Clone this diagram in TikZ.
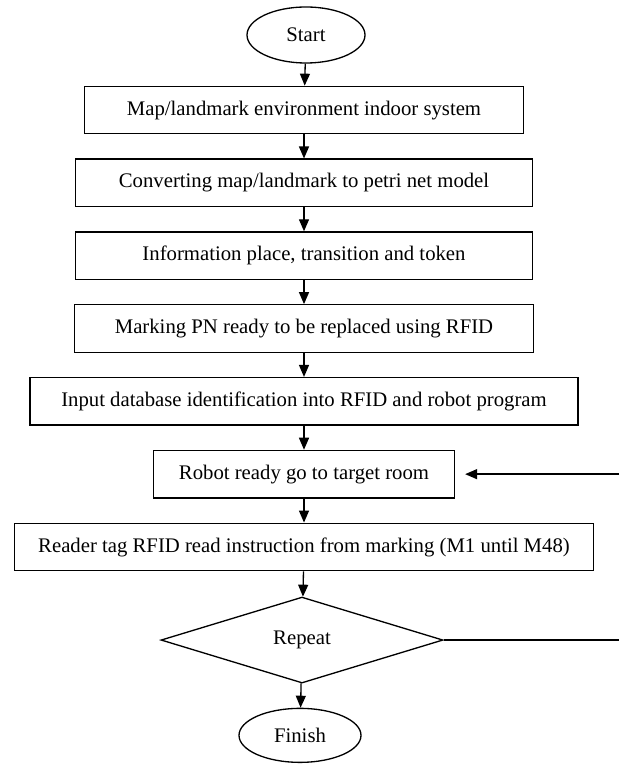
\documentclass[tikz,border=0pt]{standalone}
\usepackage{fontspec}
\setmainfont{Liberation Serif}
\usetikzlibrary{positioning,shapes.geometric,arrows.meta}

\begin{document}
\begin{tikzpicture}[auto,line width=0.75pt,font=\fontsize{11.8}{14}\selectfont,>={Triangle[width=0.2cm,length=0.24cm]}]

	\useasboundingbox (0,0) rectangle (12.38,-15.28);

	\begin{scope}[every node/.style={draw,ellipse,minimum width=2.36cm,minimum height=1.12cm,inner sep=0pt}]
		\node (start) at (6.12,-0.70) {Start};
	\end{scope}

	\begin{scope}[every node/.style={draw,rectangle,minimum height=0.95cm,inner sep=0pt}]
		\node (map) at (start.south) [below=0.44cm,xshift=-0.04cm,minimum width=8.78cm] {Map/landmark environment indoor system};
		\node (petri) at (map.south) [below=0.48cm,minimum width=9.14cm] {Converting map/landmark to petri net model};
		\node (info) at (petri.south) [below=0.48cm,minimum width=9.14cm] {Information place, transition and token};
		\node (marking) at (info.south) [below=0.48cm,minimum width=9.18cm] {Marking PN ready to be replaced using RFID};
		\node (input) at (marking.south) [below=0.48cm,minimum width=10.96cm] {Input database identification into RFID and robot program};
		\node (robot) at (input.south) [below=0.48cm,minimum width=6.02cm] {Robot ready go to target room};
		\node (reader) at (robot.south) [below=0.48cm,minimum width=11.58cm] {Reader tag RFID read instruction from marking (M1 until M48)};
	\end{scope}

	\node (rep) at (reader.south) [below=0.5cm,xshift=-0.04cm,draw,diamond,aspect=3.3,minimum width=5.64cm,minimum height=1.72cm,inner sep=0pt] {Repeat};

	\begin{scope}[every node/.style={draw,ellipse,minimum width=2.44cm,minimum height=1.08cm,inner sep=0pt}]
		\node (finish) at (rep.south) [below=0.48cm,xshift=-0.04cm] {Finish};
	\end{scope}

	\coordinate (edge) at (12.38,0);
	\coordinate (back) at (robot.east -| edge);
	\coordinate (loop) at (rep.east -| edge);

	\draw[->] (start) -- (map);
	\draw[->] (map) -- (petri);
	\draw[->] (petri) -- (info);
	\draw[->] (info) -- (marking);
	\draw[->] (marking) -- (input);
	\draw[->] (input) -- (robot);
	\draw[->] (robot) -- (reader);
	\draw[->] (reader) -- (rep);
	\draw[->] (rep) -- (finish);

	\draw[->,shorten >=0.2cm] (back) -- (robot);
	\draw (rep) -- (loop);

\end{tikzpicture}
\end{document}
